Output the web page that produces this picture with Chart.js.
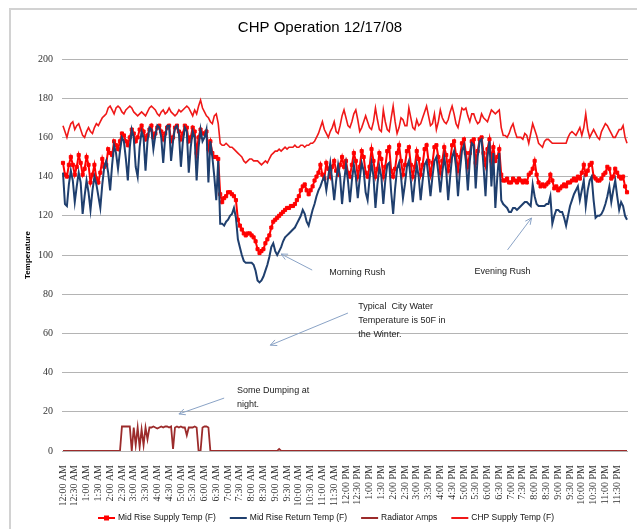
<!DOCTYPE html>
<html>
<head>
<meta charset="utf-8">
<title>CHP Operation 12/17/08</title>
<script src="https://cdn.jsdelivr.net/npm/chart.js@4.4.1/dist/chart.umd.min.js"></script>
<style>
  html, body { margin: 0; padding: 0; background: #fff; }
  canvas { display: block; }
</style>
</head>
<body>
<canvas id="chp" width="637" height="529"></canvas>
<script>
// half-hour tick labels shown under the axis (one every 6 readings)
const tickLabels = [
  "12:00 AM", "12:30 AM", "1:00 AM", "1:30 AM", "2:00 AM", "2:30 AM", "3:00 AM", "3:30 AM",
  "4:00 AM", "4:30 AM", "5:00 AM", "5:30 AM", "6:00 AM", "6:30 AM", "7:00 AM", "7:30 AM",
  "8:00 AM", "8:30 AM", "9:00 AM", "9:30 AM", "10:00 AM", "10:30 AM", "11:00 AM", "11:30 AM",
  "12:00 PM", "12:30 PM", "1:00 PM", "1:30 PM", "2:00 PM", "2:30 PM", "3:00 PM", "3:30 PM",
  "4:00 PM", "4:30 PM", "5:00 PM", "5:30 PM", "6:00 PM", "6:30 PM", "7:00 PM", "7:30 PM",
  "8:00 PM", "8:30 PM", "9:00 PM", "9:30 PM", "10:00 PM", "10:30 PM", "11:00 PM", "11:30 PM"
];

// readings every 5 minutes, one row per hour
const supplyTemp = [
  147,141,140,146,150,146,141,145,151,147,141,144,
  150,146,137,141,146,139,137,142,149,145,146,154,
  152,151,158,156,154,158,162,161,158,156,160,164,
  162,158,160,164,166,163,159,161,164,166,160,162,
  165,166,163,159,162,165,166,158,160,165,166,163,
  159,162,166,165,158,160,165,163,152,160,164,162,
  162,163,154,158,152,150,150,149,131,127,129,130,
  132,132,131,130,128,118,115,113,111,110,111,111,
  110,109,107,103,101,102,103,106,108,110,114,117,
  118,119,120,121,122,123,124,124,125,125,126,128,
  130,133,135,136,133,131,133,135,138,140,142,146,
  141,139,147,144,140,145,148,143,141,146,150,145,
  148,142,140,146,152,148,140,145,153,150,142,140,
  145,154,148,140,144,152,149,140,145,153,155,143,
  140,144,152,156,148,141,146,153,155,146,140,145,
  153,149,141,146,154,156,148,141,147,155,156,150,
  142,148,155,151,143,148,156,158,151,143,150,157,
  159,152,145,152,158,159,147,153,159,160,152,146,
  154,159,148,155,148,150,154,141,138,138,139,137,
  137,139,138,137,139,138,137,138,137,141,142,144,
  148,141,137,135,136,135,136,137,141,138,134,135,
  133,134,135,136,135,137,137,138,139,138,140,139,
  142,146,141,143,146,147,140,139,138,138,139,141,
  142,145,144,139,140,144,142,140,139,140,135,132
];

const returnTemp = [
  142,126,125,136,143,138,127,135,142,137,121,130,
  138,132,123,133,140,136,130,124,136,145,148,142,
  133,146,156,152,144,153,160,158,149,138,155,164,
  160,145,140,155,163,160,143,158,165,164,154,161,
  166,165,160,147,160,166,166,148,158,165,166,162,
  145,158,165,163,142,155,163,160,138,155,164,158,
  160,164,137,158,150,140,128,148,116,116,115,117,
  118,120,121,124,119,108,104,100,97,96,96,96,
  96,95,92,87,86,87,89,92,95,99,104,106,
  102,100,102,104,107,109,110,111,112,113,114,116,
  118,120,123,121,117,115,119,123,126,130,133,135,
  138,140,133,140,147,138,128,138,146,140,126,137,
  146,138,127,138,146,140,129,139,147,143,132,128,
  139,147,140,124,136,145,140,126,138,146,147,132,
  121,134,144,147,140,129,136,145,148,138,127,137,
  146,140,128,138,146,148,140,130,140,148,150,142,
  132,142,150,143,128,140,150,153,145,130,143,153,
  156,148,133,148,157,156,134,150,158,159,145,130,
  150,158,135,152,124,140,152,128,126,125,124,122,
  122,124,124,123,124,125,126,127,127,126,125,136,
  130,126,125,125,125,125,126,126,130,116,120,123,
  123,122,122,119,115,120,125,128,131,133,135,128,
  133,138,125,133,138,140,128,119,120,120,121,123,
  126,130,135,127,133,138,130,123,127,125,120,118
];

const radiatorAmps = [
  0,0,0,0,0,0,0,0,0,0,0,0,
  0,0,0,0,0,0,0,0,0,0,0,0,
  0,0,0,0,0,0,12.5,12.5,12.5,12.5,12.5,0,
  12,3,12,2,11,3,12,6,12,12,12.5,12,
  11.5,12,12.5,12,12.5,12.5,12,12.5,1,12,12.5,12,
  12.5,12,12,8,12,12,12,12.5,12,0,0,12,
  12.5,12.5,12,0,0,0,0,0,0,0,0,0,
  0,0,0,0,0,0,0,0,0,0,0,0,
  0,0,0,0,0,0,0,0,0,0,0,0,
  0,0,1,0,0,0,0,0,0,0,0,0,
  0,0,0,0,0,0,0,0,0,0,0,0,
  0,0,0,0,0,0,0,0,0,0,0,0,
  0,0,0,0,0,0,0,0,0,0,0,0,
  0,0,0,0,0,0,0,0,0,0,0,0,
  0,0,0,0,0,0,0,0,0,0,0,0,
  0,0,0,0,0,0,0,0,0,0,0,0,
  0,0,0,0,0,0,0,0,0,0,0,0,
  0,0,0,0,0,0,0,0,0,0,0,0,
  0,0,0,0,0,0,0,0,0,0,0,0,
  0,0,0,0,0,0,0,0,0,0,0,0,
  0,0,0,0,0,0,0,0,0,0,0,0,
  0,0,0,0,0,0,0,0,0,0,0,0,
  0,0,0,0,0,0,0,0,0,0,0,0,
  0,0,0,0,0,0,0,0,0,0,0,0
];

const chpTemp = [
  166,163,160,164,167,168,164,166,167,164,161,160,
  163,165,163,162,165,167,166,168,170,171,172,175,
  176,174,172,175,176,175,173,172,174,175,176,175,
  173,172,171,172,173,172,171,173,175,176,175,174,
  172,171,173,174,172,173,175,173,172,171,172,174,
  173,174,175,176,175,173,171,174,172,176,179,175,
  173,171,170,168,167,171,172,167,157,156,156,157,
  156,155,155,154,153,152,151,150,148,147,148,149,
  149,148,148,148,147,146,147,148,147,149,151,152,
  153,153,154,153,154,155,154,155,155,155,156,155,
  155,156,156,155,156,156,157,157,158,160,162,165,
  168,164,162,160,163,165,168,163,162,166,171,174,
  170,166,165,168,172,174,169,163,165,168,171,168,
  165,164,168,175,169,164,163,174,168,164,163,170,
  176,168,162,165,170,169,166,166,175,170,165,164,
  169,166,167,170,173,176,171,166,167,172,164,168,
  174,170,168,167,169,173,176,172,167,165,170,175,
  174,175,171,168,172,172,169,167,168,172,170,169,
  168,171,174,173,172,173,174,165,161,161,160,162,
  165,167,163,160,160,160,159,162,161,157,162,167,
  164,161,157,156,155,158,159,159,158,157,157,157,
  157,157,157,157,157,160,162,163,162,161,163,165,
  161,165,172,164,160,162,164,162,160,159,163,165,
  167,166,164,162,160,160,162,164,164,166,160,157
];

// callouts: text anchor and arrow given as [reading index, temperature]
const notes = [
  { lines: ["Morning Rush"], at: [135.5, 91], from: [126.8, 92.3], to: [111, 100.5] },
  { lines: ["Evening Rush"], at: [209.4, 91.8], from: [226.2, 102.6], to: [238.4, 118.9] },
  { lines: ["Typical  City Water", "Temperature is 50F in", "the Winter."], at: [150.3, 73.6], from: [145, 70.4], to: [105.5, 54] },
  { lines: ["Some Dumping at", "night."], at: [88.6, 31.1], from: [82, 27], to: [59, 18.9] }
];

const times = [];
for (let h = 0; h < 24; h++) {
  for (let m = 0; m < 60; m += 5) {
    const hh = h % 12 === 0 ? 12 : h % 12;
    times.push(hh + ":" + String(m).padStart(2, "0") + (h < 12 ? " AM" : " PM"));
  }
}

const sans = '"Liberation Sans", Arial, sans-serif';
const serif = '"Liberation Serif", "DejaVu Serif", serif';

function arrow(ctx, x1, y1, x2, y2) {
  const a = Math.atan2(y2 - y1, x2 - x1);
  ctx.beginPath();
  ctx.moveTo(x1, y1);
  ctx.lineTo(x2, y2);
  ctx.moveTo(x2 - 7 * Math.cos(a - 0.45), y2 - 7 * Math.sin(a - 0.45));
  ctx.lineTo(x2, y2);
  ctx.lineTo(x2 - 7 * Math.cos(a + 0.45), y2 - 7 * Math.sin(a + 0.45));
  ctx.stroke();
}

const extras = {
  id: "extras",
  beforeDraw(chart) {
    const ctx = chart.ctx;
    ctx.save();
    ctx.fillStyle = "#fff";
    ctx.fillRect(0, 0, chart.width, chart.height);
    ctx.strokeStyle = "#d2d2d2";
    ctx.lineWidth = 2;
    ctx.beginPath();
    ctx.moveTo(10, chart.height);
    ctx.lineTo(10, 9);
    ctx.lineTo(chart.width, 9);
    ctx.stroke();
    ctx.restore();
  },
  afterDraw(chart) {
    const { ctx } = chart;
    const x = chart.scales.x, y = chart.scales.y;
    ctx.save();
    ctx.font = "9px " + sans;
    ctx.fillStyle = "#222";
    ctx.textBaseline = "middle";
    ctx.strokeStyle = "#8aa3c6";
    ctx.lineWidth = 1;
    notes.forEach(n => {
      const tx = x.getPixelForValue(n.at[0]);
      const ty = y.getPixelForValue(n.at[1]);
      n.lines.forEach((t, k) => ctx.fillText(t, tx, ty + k * 14));
      arrow(ctx, x.getPixelForValue(n.from[0]), y.getPixelForValue(n.from[1]),
                 x.getPixelForValue(n.to[0]), y.getPixelForValue(n.to[1]));
    });

    // legend row under the axis labels
    const sets = chart.data.datasets;
    ctx.font = "8.5px " + sans;
    const lineLen = 17, gap = 3, itemGap = 14;
    const widths = sets.map(d => lineLen + gap + ctx.measureText(d.label).width);
    const total = widths.reduce((a, b) => a + b, 0) + itemGap * (sets.length - 1);
    let lx = 326 - total / 2;
    const ly = 518;
    sets.forEach((d, i) => {
      ctx.strokeStyle = d.borderColor;
      ctx.lineWidth = 2;
      ctx.beginPath();
      ctx.moveTo(lx, ly);
      ctx.lineTo(lx + lineLen, ly);
      ctx.stroke();
      if (d.pointRadius > 0) {
        ctx.fillStyle = d.borderColor;
        ctx.fillRect(lx + lineLen / 2 - 2.5, ly - 2.5, 5, 5);
      }
      ctx.fillStyle = "#111";
      ctx.fillText(d.label, lx + lineLen + gap, ly);
      lx += widths[i] + itemGap;
    });
    ctx.restore();
  }
};

new Chart(document.getElementById("chp"), {
  type: "line",
  data: {
    labels: times,
    datasets: [
      {
        label: "Mid Rise Supply Temp (F)",
        data: supplyTemp,
        borderColor: "#ff0000",
        backgroundColor: "#ff0000",
        borderWidth: 2,
        pointStyle: "rect",
        pointRadius: 2.2,
        pointBorderWidth: 1,
        order: 4
      },
      {
        label: "Mid Rise Return Temp (F)",
        data: returnTemp,
        borderColor: "#1f3f6e",
        backgroundColor: "#1f3f6e",
        borderWidth: 2,
        pointRadius: 0,
        order: 3
      },
      {
        label: "Radiator Amps",
        data: radiatorAmps,
        borderColor: "#9c2b2b",
        backgroundColor: "#9c2b2b",
        borderWidth: 1.8,
        pointRadius: 0,
        order: 2
      },
      {
        label: "CHP Supply Temp (F)",
        data: chpTemp,
        borderColor: "#f01818",
        backgroundColor: "#f01818",
        borderWidth: 1.6,
        pointRadius: 0,
        order: 1
      }
    ]
  },
  options: {
    responsive: false,
    animation: false,
    events: [],
    layout: { padding: { left: 12, right: 9, top: 0, bottom: 24 } },
    plugins: {
      title: {
        display: true,
        text: "CHP Operation 12/17/08",
        color: "#000",
        font: { family: sans, size: 15, weight: "normal" },
        padding: { top: 19, bottom: 22 }
      },
      legend: { display: false },
      tooltip: { enabled: false }
    },
    scales: {
      x: {
        offset: true,
        grid: { display: false },
        border: { display: false },
        afterFit: s => { s.height = 54; },
        ticks: {
          autoSkip: false,
          minRotation: 90,
          maxRotation: 90,
          padding: 6,
          color: "#333",
          font: { family: serif, size: 10 },
          callback: (v, i) => (i % 6 === 0 ? tickLabels[i / 6] : null)
        }
      },
      y: {
        min: 0,
        max: 200,
        afterFit: s => { s.width = 50; },
        border: { display: false },
        grid: { color: "#b4b4b4", drawTicks: false },
        ticks: {
          stepSize: 20,
          padding: 9,
          color: "#333",
          font: { family: serif, size: 10 }
        },
        title: {
          display: true,
          text: "Temperature",
          color: "#000",
          font: { family: sans, size: 8, weight: "bold" },
          padding: { top: 11, bottom: 0 }
        }
      }
    }
  },
  plugins: [extras]
});
</script>
</body>
</html>
